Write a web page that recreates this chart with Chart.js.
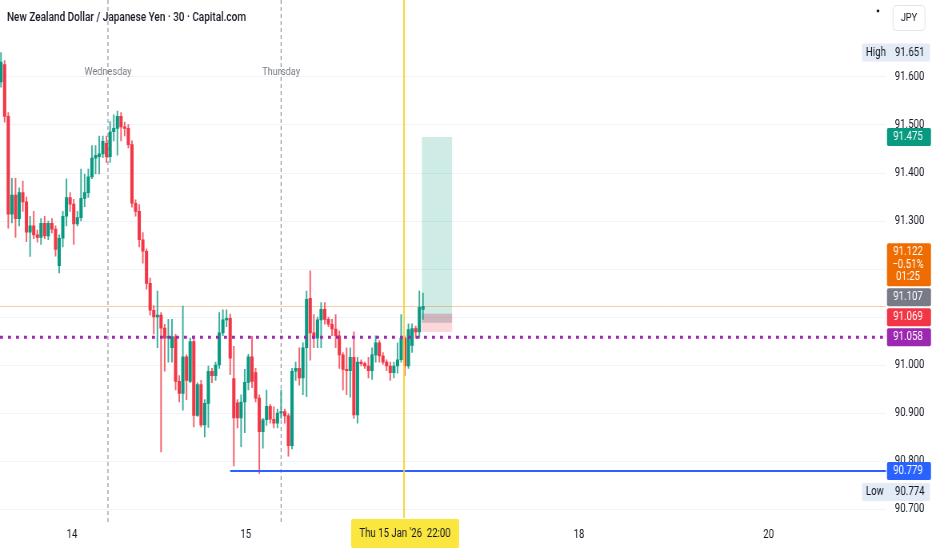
<!DOCTYPE html>
<html>
<head>
<meta charset="utf-8">
<script src="https://cdn.jsdelivr.net/npm/chart.js@4.4.1/dist/chart.umd.min.js"></script>
<style>
  html, body { margin: 0; padding: 0; background: #fff; overflow: hidden; }
  #chart { display: block; transform: scaleX(0.8); transform-origin: 0 0; }
</style>
</head>
<body>
<canvas id="chart" width="1165" height="550"></canvas>
<script>
// NZD/JPY 30 min candles (index 0 = first visible bar)
const candleOpen = [
  91.590, 91.626, 91.518, 91.314, 91.354, 91.305, 91.359, 91.340, 91.277, 91.290,
  91.271, 91.266, 91.295, 91.269, 91.295, 91.283, 91.207, 91.264, 91.310, 91.349,
  91.335, 91.294, 91.307, 91.347, 91.359, 91.392, 91.431, 91.434, 91.440, 91.462,
  91.434, 91.486, 91.493, 91.518, 91.496, 91.493, 91.459, 91.337, 91.320, 91.261,
  91.237, 91.170, 91.114, 91.100, 91.104, 91.077, 91.056, 91.036, 91.059, 90.966,
  90.941, 91.017, 90.966, 91.049, 90.895, 90.959, 90.875, 90.920, 90.987, 90.978,
  91.000, 91.067, 91.094, 91.097, 90.972, 90.921, 90.890, 90.923, 90.964, 91.017,
  90.984, 90.931, 90.861, 90.886, 90.914, 90.887, 90.879, 90.900, 90.903, 90.894,
  90.832, 90.987, 90.993, 90.973, 91.036, 91.139, 91.067, 91.056, 91.094, 91.116,
  91.095, 91.085, 91.075, 91.061, 91.021, 90.991, 90.988, 91.016, 90.896, 91.006,
  91.003, 90.998, 90.988, 91.021, 91.046, 91.019, 91.006, 90.998, 90.984, 90.998,
  91.011, 91.056, 90.998, 91.041, 91.076, 91.069, 91.116
];
const candleHigh = [
  91.651, 91.634, 91.526, 91.389, 91.389, 91.369, 91.383, 91.350, 91.310, 91.320,
  91.281, 91.305, 91.310, 91.300, 91.305, 91.290, 91.271, 91.320, 91.388, 91.359,
  91.345, 91.320, 91.408, 91.398, 91.408, 91.457, 91.457, 91.477, 91.477, 91.477,
  91.507, 91.521, 91.529, 91.526, 91.506, 91.501, 91.467, 91.344, 91.334, 91.276,
  91.242, 91.181, 91.124, 91.154, 91.109, 91.085, 91.095, 91.095, 91.064, 90.978,
  91.123, 91.021, 91.056, 91.061, 90.963, 90.968, 90.928, 90.998, 90.993, 91.006,
  91.109, 91.115, 91.115, 91.106, 91.039, 90.928, 90.938, 90.991, 91.022, 91.060,
  90.993, 90.938, 90.889, 90.948, 90.918, 90.913, 90.908, 90.948, 90.908, 90.899,
  90.993, 91.006, 91.036, 91.046, 91.154, 91.196, 91.105, 91.100, 91.130, 91.130,
  91.100, 91.095, 91.105, 91.071, 91.026, 91.036, 91.036, 91.069, 91.016, 91.011,
  91.006, 91.016, 91.036, 91.061, 91.051, 91.026, 91.011, 91.006, 91.006, 91.046,
  91.105, 91.061, 91.086, 91.086, 91.081, 91.154, 91.150
];
const candleLow = [
  91.579, 91.506, 91.285, 91.296, 91.266, 91.290, 91.320, 91.257, 91.226, 91.263,
  91.256, 91.251, 91.263, 91.261, 91.275, 91.227, 91.192, 91.246, 91.290, 91.320,
  91.251, 91.290, 91.300, 91.330, 91.349, 91.388, 91.398, 91.398, 91.432, 91.422,
  91.422, 91.467, 91.437, 91.467, 91.477, 91.452, 91.329, 91.310, 91.246, 91.212,
  91.158, 91.104, 91.065, 91.036, 90.819, 90.987, 91.006, 91.006, 90.948, 90.923,
  90.906, 90.928, 90.963, 90.871, 90.893, 90.871, 90.850, 90.870, 90.963, 90.968,
  90.993, 91.061, 91.080, 90.980, 90.790, 90.869, 90.830, 90.859, 90.948, 90.953,
  90.923, 90.774, 90.827, 90.874, 90.879, 90.869, 90.869, 90.889, 90.879, 90.810,
  90.825, 90.968, 90.958, 90.938, 90.934, 91.010, 91.036, 91.036, 91.036, 91.085,
  91.080, 91.061, 91.036, 90.993, 90.948, 90.938, 90.933, 90.889, 90.879, 90.998,
  90.993, 90.973, 90.970, 91.006, 91.006, 91.001, 90.988, 90.968, 90.973, 90.983,
  91.006, 90.978, 90.993, 91.026, 91.056, 91.056, 91.095
];
const candleClose = [
  91.631, 91.518, 91.314, 91.354, 91.305, 91.359, 91.340, 91.277, 91.290, 91.271,
  91.266, 91.295, 91.269, 91.295, 91.283, 91.241, 91.264, 91.310, 91.349, 91.335,
  91.294, 91.307, 91.347, 91.359, 91.392, 91.431, 91.437, 91.440, 91.466, 91.434,
  91.486, 91.493, 91.518, 91.496, 91.493, 91.459, 91.337, 91.320, 91.261, 91.237,
  91.170, 91.114, 91.100, 91.104, 91.077, 91.056, 91.060, 91.059, 90.966, 90.941,
  91.017, 90.968, 91.049, 90.895, 90.959, 90.875, 90.920, 90.987, 90.978, 91.000,
  91.067, 91.094, 91.097, 91.014, 90.890, 90.890, 90.923, 90.964, 91.017, 90.966,
  90.931, 90.861, 90.886, 90.914, 90.887, 90.879, 90.900, 90.903, 90.894, 90.832,
  90.987, 90.993, 90.973, 91.036, 91.137, 91.067, 91.056, 91.094, 91.116, 91.095,
  91.085, 91.075, 91.061, 91.021, 90.991, 90.988, 91.016, 90.896, 91.006, 91.003,
  90.998, 90.988, 91.021, 91.046, 91.019, 91.006, 90.998, 90.984, 90.998, 91.011,
  91.056, 90.998, 91.074, 91.076, 91.069, 91.120, 91.122
];

// time axis (bar index units)
const xTickPos = [19.5, 67.3, 158.9, 211];
const xTickLabels = ['14', '15', '18', '20'];
const sessionBreaks = [29.4, 77];
const sessionNames = ['Wednesday', 'Thursday'];
const timeMarker = 110.8;
const timeMarkerLabel = "Thu 15 Jan '26  22:00";

// price axis
const yTickVals = [90.7, 90.8, 90.9, 91.0, 91.1, 91.2, 91.3, 91.4, 91.5, 91.6];

// levels and drawings
const lastPrice = 91.122;
const lastChange = '\u22120.51%';
const barCountdown = '01:25';
const targetPrice = 91.475;
const entryPrice = 91.107;
const stopPrice = 91.069;
const openPnlTo = 91.088;
const positionStart = 115.7;
const positionEnd = 124;
const dottedLevel = 91.058;
const supportLevel = 90.779;
const supportStart = 63;
const sessionHigh = 91.651;
const sessionLow = 90.774;

const title = 'New Zealand Dollar / Japanese Yen \u00b7 30 \u00b7 Capital.com';

const SX = 0.8; // canvas is squeezed horizontally by css
const FONT = "Roboto, 'Noto Sans', sans-serif";
const UP = '#089981', DOWN = '#f23645';

const idx = candleOpen.map((_, i) => i);
const isUp = idx.map(i => candleClose[i] >= candleOpen[i]);

function box(ctx, x, y, w, h, r, fill, stroke) {
    ctx.beginPath();
    if (ctx.roundRect) ctx.roundRect(x, y, w, h, r); else ctx.rect(x, y, w, h);
    if (fill) { ctx.fillStyle = fill; ctx.fill(); }
    if (stroke) { ctx.strokeStyle = stroke; ctx.lineWidth = 1; ctx.stroke(); }
}

function text(ctx, s, x, y, font, color, align) {
    ctx.font = font;
    ctx.fillStyle = color;
    ctx.textAlign = align || 'left';
    ctx.textBaseline = 'middle';
    ctx.fillText(s, x, y);
}

// chart.js pads the scales for half a label; we want the plot flush to the edges
function noPad(s) {
    s.paddingTop = 0;
    s.paddingBottom = 0;
    s.paddingLeft = 0;
    s.paddingRight = 0;
}

const overlay = {
    id: 'overlay',
    beforeDatasetsDraw(chart) {
        const { ctx, chartArea: a, scales: { x, y } } = chart;
        ctx.save();

        // session separators
        ctx.strokeStyle = '#9598a1';
        ctx.lineWidth = 1 / SX;
        ctx.setLineDash([4, 3]);
        sessionBreaks.forEach(b => {
            const px = x.getPixelForValue(b);
            ctx.beginPath();
            ctx.moveTo(px, a.top);
            ctx.lineTo(px, a.bottom + 6);
            ctx.stroke();
        });
        ctx.setLineDash([]);

        // long position tool
        const x0 = x.getPixelForValue(positionStart);
        const x1 = x.getPixelForValue(positionEnd);
        ctx.fillStyle = 'rgba(8,153,129,0.2)';
        ctx.fillRect(x0, y.getPixelForValue(targetPrice), x1 - x0, y.getPixelForValue(entryPrice) - y.getPixelForValue(targetPrice));
        ctx.fillStyle = 'rgba(242,54,69,0.2)';
        ctx.fillRect(x0, y.getPixelForValue(entryPrice), x1 - x0, y.getPixelForValue(stopPrice) - y.getPixelForValue(entryPrice));
        ctx.fillStyle = 'rgba(120,123,134,0.35)';
        ctx.fillRect(x0, y.getPixelForValue(entryPrice), x1 - x0, y.getPixelForValue(openPnlTo) - y.getPixelForValue(entryPrice));

        // last price line
        ctx.strokeStyle = 'rgba(239,108,0,0.35)';
        ctx.lineWidth = 1;
        const ly = Math.round(y.getPixelForValue(lastPrice)) + 0.5;
        ctx.beginPath();
        ctx.moveTo(a.left, ly);
        ctx.lineTo(a.right, ly);
        ctx.stroke();
        ctx.restore();
    },
    afterDatasetsDraw(chart) {
        const { ctx, chartArea: a, scales: { x, y } } = chart;
        ctx.save();

        // dotted horizontal level
        ctx.strokeStyle = '#9c27b0';
        ctx.lineWidth = 3;
        ctx.setLineDash([3 / SX, 5 / SX]);
        const dy = y.getPixelForValue(dottedLevel);
        ctx.beginPath();
        ctx.moveTo(a.left, dy);
        ctx.lineTo(a.right, dy);
        ctx.stroke();
        ctx.setLineDash([]);

        // support ray
        ctx.strokeStyle = '#2962ff';
        ctx.lineWidth = 2;
        const sy = y.getPixelForValue(supportLevel);
        ctx.beginPath();
        ctx.moveTo(x.getPixelForValue(supportStart), sy);
        ctx.lineTo(a.right, sy);
        ctx.stroke();

        // time marker
        ctx.strokeStyle = '#f5d430';
        ctx.lineWidth = 1.5 / SX;
        const tx = x.getPixelForValue(timeMarker);
        ctx.beginPath();
        ctx.moveTo(tx, a.top);
        ctx.lineTo(tx, a.bottom);
        ctx.stroke();
        ctx.restore();
    },
    afterDraw(chart) {
        const { ctx, chartArea: a, scales: { x, y } } = chart;
        ctx.save();
        const f = (s, w) => (w || '') + ' ' + s + 'px ' + FONT;

        // title + session names
        text(ctx, title, 7 / SX, 18, f(12.5, '500'), '#131722');
        sessionBreaks.forEach((b, i) => {
            text(ctx, sessionNames[i], x.getPixelForValue(b), 72, f(11.5), '#787b86', 'center');
        });

        // currency box + dot
        box(ctx, 893 / SX, 5.5, 32 / SX, 25, 4, '#fff', '#e0e3eb');
        text(ctx, 'JPY', 909 / SX, 18, f(11.5), '#131722', 'center');
        ctx.beginPath();
        ctx.ellipse(878 / SX, 11, 1.4 / SX, 1.4, 0, 0, Math.PI * 2);
        ctx.fillStyle = '#131722';
        ctx.fill();

        // price tags on the axis
        const tagX = a.right + 1 / SX, tagW = 44 / SX, tagTx = a.right + 22 / SX;
        function tag(cy, lines, bg) {
            const h = 18 + (lines.length - 1) * 12.5;
            box(ctx, tagX, cy - h / 2, tagW, h, 2, bg);
            lines.forEach((s, i) => {
                text(ctx, s, tagTx, cy - h / 2 + 9 + i * 12.5, f(12), '#fff', 'center');
            });
            return h;
        }
        // stack tags near the last price so they don't overlap
        const stack = [
            { v: dottedLevel, lines: [dottedLevel.toFixed(3)], bg: '#9c27b0' },
            { v: stopPrice, lines: [stopPrice.toFixed(3)], bg: '#f23645' },
            { v: entryPrice, lines: [entryPrice.toFixed(3)], bg: '#787b86' },
            { v: lastPrice, lines: [lastPrice.toFixed(3), lastChange, barCountdown], bg: '#ef6c00' }
        ];
        let top = Infinity;
        stack.forEach(t => {
            const h = 18 + (t.lines.length - 1) * 12.5;
            let cy = y.getPixelForValue(t.v);
            if (cy + h / 2 > top - 2) cy = top - 2 - h / 2;
            tag(cy, t.lines, t.bg);
            top = cy - h / 2;
        });
        tag(y.getPixelForValue(targetPrice), [targetPrice.toFixed(3)], '#089981');
        const supY = y.getPixelForValue(supportLevel);
        tag(supY, [supportLevel.toFixed(3)], '#2962ff');

        // high / low badges
        const hlX = a.right - 24 / SX, hlW = 68 / SX;
        const hy = y.getPixelForValue(sessionHigh);
        box(ctx, hlX, hy - 9, hlW, 18, 2, '#e3ebf7');
        text(ctx, 'High', hlX + 4 / SX, hy, f(12), '#131722');
        text(ctx, sessionHigh.toFixed(3), a.right + 9 / SX, hy, f(12), '#131722');
        const lowY = Math.max(y.getPixelForValue(sessionLow), supY + 9 + 3 + 9);
        box(ctx, hlX, lowY - 9, hlW, 18, 2, '#e3ebf7');
        text(ctx, 'Low', hlX + 4 / SX, lowY, f(12), '#131722');
        text(ctx, sessionLow.toFixed(3), a.right + 9 / SX, lowY, f(12), '#131722');

        // highlighted time on the x axis
        const tx = x.getPixelForValue(timeMarker);
        box(ctx, tx - 53 / SX, a.bottom + 1, 108 / SX, 29, 2, '#fbe63f');
        text(ctx, timeMarkerLabel, tx + 1 / SX, a.bottom + 16, f(12), '#131722', 'center');
        ctx.restore();
    }
};

const ctx = document.getElementById('chart').getContext('2d');
new Chart(ctx, {
    type: 'bar',
    data: {
        datasets: [
            {
                label: 'body',
                data: idx.map(i => ({ x: i, y: [candleOpen[i], candleClose[i]] })),
                backgroundColor: isUp.map(u => (u ? UP : DOWN)),
                barThickness: 2.7 / SX,
                minBarLength: 1,
                grouped: false,
            },
            {
                label: 'wick',
                data: idx.map(i => ({ x: i, y: [candleLow[i], candleHigh[i]] })),
                backgroundColor: isUp.map(u => (u ? 'rgba(8,153,129,0.8)' : 'rgba(242,54,69,0.8)')),
                barThickness: 1 / SX,
                grouped: false,
            },
        ],
    },
    options: {
        responsive: false,
        animation: false,
        devicePixelRatio: 1,
        layout: { padding: 0 },
        plugins: {
            legend: { display: false },
            tooltip: { enabled: false },
        },
        scales: {
            x: {
                type: 'linear',
                offset: false,
                min: -0.275,
                max: 243.27,
                afterBuildTicks: s => { s.ticks = xTickPos.map(v => ({ value: v })); },
                afterFit: s => { s.height = 32; noPad(s); },
                grid: { display: false, drawTicks: false },
                border: { display: false },
                ticks: {
                    autoSkip: false,
                    maxRotation: 0,
                    padding: 10,
                    color: '#131722',
                    font: { family: FONT, size: 12 },
                    callback: (v, i) => xTickLabels[i],
                },
            },
            y: {
                type: 'linear',
                position: 'right',
                min: 90.6813,
                max: 91.7604,
                afterBuildTicks: s => { s.ticks = yTickVals.map(v => ({ value: v })); },
                afterFit: s => { s.width = 46 / SX; noPad(s); },
                grid: { color: '#f0f3fa', drawTicks: false },
                border: { display: false },
                ticks: {
                    padding: 11,
                    color: '#131722',
                    font: { family: FONT, size: 12 },
                    callback: v => Number(v).toFixed(3),
                },
            },
        },
    },
    plugins: [overlay],
});
</script>
</body>
</html>
